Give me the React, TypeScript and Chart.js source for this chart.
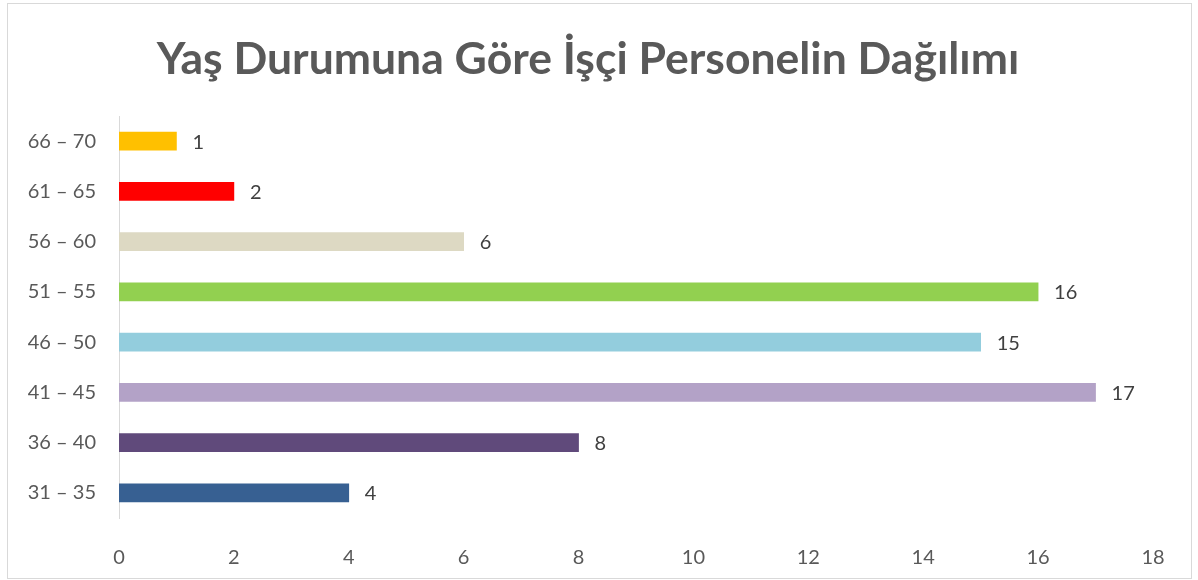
import React, { useEffect, useRef } from "react";
import { Chart, registerables } from "chart.js";

Chart.register(...registerables);

const categories = ["31 – 35", "36 – 40", "41 – 45", "46 – 50", "51 – 55", "56 – 60", "61 – 65", "66 – 70"];
const values = [4, 8, 17, 15, 16, 6, 2, 1];
const barColors = ["#376092", "#604A7B", "#B3A2C7", "#93CDDD", "#92D050", "#DDD9C3", "#FF0000", "#FFC000"];
const xTicks = [0, 2, 4, 6, 8, 10, 12, 14, 16, 18];
const titleText = "Yaş Durumuna Göre İşçi Personelin Dağılımı";

const FONT = "Lato, 'Open Sans', sans-serif";

const valueLabels = {
  id: "valueLabels",
  afterDatasetsDraw(chart: any) {
    const { ctx } = chart;
    const meta = chart.getDatasetMeta(0);
    ctx.save();
    ctx.fillStyle = "#404040";
    ctx.font = `20px ${FONT}`;
    ctx.textAlign = "left";
    ctx.textBaseline = "middle";
    meta.data.forEach((bar: any, i: number) => {
      ctx.fillText(String(chart.data.datasets[0].data[i]), bar.x + 16, bar.y + 1);
    });
    ctx.restore();
  },
};

const chartTitle = {
  id: "chartTitle",
  afterDraw(chart: any) {
    const { ctx } = chart;
    ctx.save();
    ctx.fillStyle = "#595959";
    ctx.font = `bold 44.5px ${FONT}`;
    ctx.textAlign = "center";
    ctx.textBaseline = "alphabetic";
    ctx.fillText(titleText, 588, 74);
    ctx.restore();
  },
};

export default function App() {
  const ref = useRef<HTMLCanvasElement | null>(null);
  useEffect(() => {
    if (!ref.current) return;
    const chart = new Chart(ref.current, {
      type: "bar",
      data: {
        labels: categories,
        datasets: [
          {
            data: values,
            backgroundColor: barColors,
            barThickness: 18,
          },
        ],
      },
      options: {
        indexAxis: "y",
        animation: false,
        responsive: false,
        devicePixelRatio: 1,
        layout: { padding: { left: 0, right: 45, top: 116, bottom: 0 } },
        plugins: {
          legend: { display: false },
          tooltip: { enabled: false },
          title: { display: false },
        },
        scales: {
          x: {
            min: 0,
            max: 18,
            afterBuildTicks: (scale: any) => {
              scale.ticks = xTicks.map((v) => ({ value: v }));
            },
            afterFit: (scale: any) => {
              scale.height = 62;
            },
            grid: { display: false },
            border: { display: false },
            ticks: {
              color: "#595959",
              font: { family: FONT, size: 20 },
              padding: 20,
              maxRotation: 0,
            },
          },
          y: {
            reverse: true,
            afterFit: (scale: any) => {
              scale.width = 119;
            },
            grid: { display: false },
            border: { display: true, color: "#D9D9D9", width: 1 },
            ticks: {
              color: "#595959",
              font: { family: FONT, size: 20 },
              padding: 15,
            },
          },
        },
      },
      plugins: [valueLabels, chartTitle],
    });
    return () => chart.destroy();
  }, []);

  return (
    <div style={{ position: "absolute", left: 0, top: 0, width: 1198, height: 580, background: "#fff" }}>
      <canvas ref={ref} width={1198} height={580} style={{ position: "absolute", left: 0, top: 0 }} />
      <div
        style={{
          position: "absolute",
          left: 7,
          top: 3,
          width: 1185,
          height: 576,
          border: "1px solid #D9D9D9",
          boxSizing: "border-box",
          pointerEvents: "none",
        }}
      />
    </div>
  );
}
